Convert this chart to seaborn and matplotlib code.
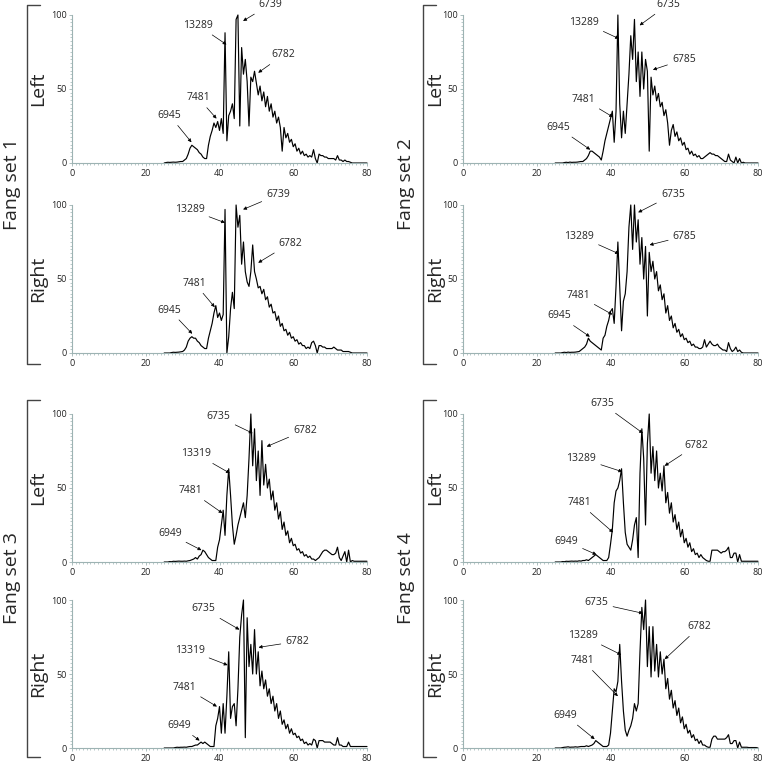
import numpy as np
import pandas as pd
import matplotlib
matplotlib.use('Agg')
import matplotlib.pyplot as plt
import seaborn as sns
from matplotlib.lines import Line2D
from matplotlib.ticker import MultipleLocator

# --- dados: intensidade relativa (%) em grade de 0.5 min, de 25 a 80 ---
TIME = np.arange(25, 80.5, 0.5)

S1_LEFT = [0, 0.3, 0.5, 0.4, 0.5, 0.6, 0.5, 0.6, 0.8, 1,
           1, 2, 3, 6, 10, 12, 11, 10, 9, 7,
           6, 4, 3, 3, 12, 18, 22, 27, 24, 28,
           22, 30, 20, 88, 15, 32, 35, 40, 30, 97,
           100, 25, 78, 60, 70, 55, 25, 58, 55, 62,
           54, 46, 52, 42, 48, 38, 45, 35, 40, 31,
           35, 27, 31, 24, 8, 24, 17, 20, 14, 16,
           11, 13, 8, 10, 6, 8, 5, 6, 4, 5,
           4, 9, 3, 0, 6, 5, 5, 4, 4, 3,
           3, 3, 3, 2, 5, 2, 2, 1, 2, 1,
           1, 0.5, 0, 0, 0, 0, 0, 0, 0, 0,
           0]
S1_RIGHT = [0, 0, 0, 0, 0.3, 0.5, 0.4, 0.5, 0.6, 0.8,
            1, 2, 4, 8, 10, 11, 10, 10, 8, 7,
            5, 4, 3, 3, 10, 15, 20, 27, 32, 24,
            27, 22, 26, 97, 0, 11, 30, 41, 30, 100,
            85, 93, 60, 75, 55, 48, 45, 55, 73, 55,
            50, 44, 45, 40, 43, 36, 38, 31, 33, 27,
            28, 22, 25, 18, 20, 15, 16, 12, 14, 10,
            11, 8, 9, 6, 7, 5, 5, 3, 4, 3,
            7, 8, 5, 0, 5, 5, 4, 4, 3, 3,
            3, 3, 4, 3, 2, 2, 2, 1, 1, 1,
            1, 0.5, 0, 0, 0, 0, 0, 0, 0, 0,
            0]
S2_LEFT = [0, 0, 0, 0, 0, 0.3, 0.5, 0.3, 0.6, 0.4,
           0.5, 0.5, 0.6, 0.8, 1, 1, 2, 3, 5, 8,
           8, 7, 6, 5, 4, 2, 8, 15, 20, 25,
           30, 35, 14, 35, 100, 40, 17, 35, 20, 40,
           60, 86, 70, 97, 55, 75, 45, 75, 50, 70,
           62, 8, 58, 46, 52, 42, 47, 38, 41, 32,
           36, 27, 12, 22, 26, 18, 21, 15, 17, 12,
           14, 9, 10, 6, 8, 5, 6, 4, 5, 3,
           3, 4, 5, 6, 7, 6, 6, 5, 5, 4,
           3, 2, 1, 1, 6, 2, 1, 0, 4, 0,
           3, 0, 0.5, 0, 0, 0, 0, 0, 0, 0,
           0]
S2_RIGHT = [0, 0, 0, 0, 0.3, 0.5, 0.3, 0.6, 0.4, 0.5,
            0.5, 0.6, 0.8, 1, 2, 3, 4, 6, 10, 8,
            7, 6, 5, 4, 3, 2, 10, 12, 18, 22,
            28, 30, 20, 45, 75, 45, 15, 35, 40, 55,
            85, 100, 70, 100, 75, 90, 60, 78, 50, 72,
            25, 68, 55, 62, 50, 55, 42, 46, 36, 40,
            27, 32, 22, 25, 17, 20, 14, 16, 11, 13,
            9, 10, 7, 8, 5, 6, 4, 4, 3, 3,
            4, 9, 4, 6, 8, 6, 5, 5, 6, 4,
            3, 2, 2, 1, 7, 3, 1, 2, 4, 1,
            2, 0.5, 0, 0, 0, 0, 0, 0, 0, 0,
            0]
S3_LEFT = [0, 0, 0, 0.3, 0.2, 0.5, 0.4, 0.5, 0.6, 0.5,
           0.5, 0.6, 0.5, 0.8, 1, 1.5, 2, 3, 2, 4,
           5, 8, 7, 5, 3, 2, 1, 1, 1, 10,
           15, 25, 35, 18, 45, 63, 45, 25, 12, 18,
           25, 30, 35, 40, 30, 45, 70, 100, 65, 90,
           55, 75, 45, 82, 52, 66, 50, 56, 42, 48,
           35, 40, 29, 34, 22, 27, 18, 21, 13, 16,
           11, 12, 8, 9, 6, 7, 4, 5, 3, 4,
           2, 2, 1, 2, 3, 5, 7, 8, 8, 7,
           6, 5, 5, 6, 10, 3, 1, 4, 7, 0,
           8, 0, 1, 0.5, 0.5, 0.5, 0.5, 0.5, 0.5, 0.5,
           0.5]
S3_RIGHT = [0, 0, 0, 0, 0, 0, 0.3, 0.5, 0.4, 0.5,
            0.5, 0.6, 0.5, 0.8, 1, 1, 1.5, 2, 2, 3,
            4, 3, 4, 3, 2, 1, 1, 1, 15, 20,
            28, 10, 30, 10, 35, 65, 20, 28, 30, 15,
            40, 75, 90, 100, 7, 88, 55, 70, 50, 80,
            50, 65, 42, 52, 40, 46, 35, 40, 30, 35,
            25, 30, 20, 25, 16, 19, 13, 16, 10, 13,
            9, 10, 7, 8, 5, 6, 3, 4, 2, 3,
            2, 6, 5, 0, 5, 5, 5, 4, 4, 4,
            4, 3, 2, 2, 7, 2, 2, 1, 1, 1,
            4, 1, 1, 1, 1, 1, 1, 1, 1, 1,
            1]
S4_LEFT = [0, 0, 0, 0, 0.3, 0.2, 0.5, 0.4, 0.5, 0.6,
           0.5, 0.6, 0.5, 0.8, 0.6, 1, 1, 1.5, 1, 2,
           3, 4, 5, 4, 3, 2, 1, 1, 1, 3,
           12, 22, 40, 48, 50, 55, 63, 40, 20, 12,
           10, 8, 15, 25, 30, 3, 60, 90, 70, 25,
           80, 100, 60, 78, 55, 75, 50, 60, 48, 65,
           40, 47, 33, 40, 27, 32, 22, 27, 17, 22,
           13, 16, 10, 13, 7, 9, 5, 6, 3, 5,
           3, 2, 1, 0.5, 0.5, 8, 8, 8, 8, 7,
           6, 7, 7, 8, 10, 3, 3, 6, 6, 0,
           5, 0.5, 0.5, 0.5, 0.5, 0.5, 0.5, 0.5, 0.5, 0.5,
           0.5]
S4_RIGHT = [0, 0, 0, 0, 0.3, 0.5, 0.6, 0.8, 0.5, 0.6,
            0.6, 0.8, 0.6, 0.8, 1, 1, 1, 1.5, 1, 1.5,
            2, 3, 5, 4, 3, 2, 1, 1, 1, 2,
            10, 25, 40, 38, 45, 70, 45, 25, 12, 8,
            12, 15, 20, 30, 25, 30, 65, 95, 80, 100,
            55, 82, 48, 82, 52, 70, 48, 65, 50, 60,
            40, 47, 33, 39, 27, 32, 22, 27, 17, 21,
            13, 16, 10, 12, 7, 9, 5, 6, 3, 5,
            2, 2, 1, 0.5, 0.5, 6, 8, 8, 6, 6,
            6, 6, 6, 7, 9, 3, 3, 5, 5, 0,
            4, 0.5, 0.5, 0.5, 0.5, 0.3, 0.3, 0.3, 0.3, 0.3,
            0]

# rótulos dos picos: (texto, x do texto, y do texto, x da seta, y da seta)
PEAKS_S1_LEFT = [('6945', 26.5, 32, 32.4, 14), ('7481', 34.2, 44, 39.2, 30),
                 ('13289', 34.2, 93, 41.9, 80), ('6739', 53.7, 107, 46.4, 96),
                 ('6782', 57.3, 73, 50.5, 61)]
PEAKS_S1_RIGHT = [('6945', 26.5, 29, 32.6, 13), ('7481', 33.3, 47, 38.7, 31),
                  ('13289', 31.9, 97, 41.5, 88), ('6739', 55.9, 107, 46.4, 97),
                  ('6782', 59.1, 74, 50.5, 61)]
PEAKS_S2_LEFT = [('6945', 25.8, 24, 34.5, 9), ('7481', 32.7, 43, 40.7, 31),
                 ('13289', 32.8, 95, 42.3, 84), ('6735', 55.6, 107, 47.9, 93),
                 ('6785', 59.9, 70, 51.5, 63)]
PEAKS_S2_RIGHT = [('6945', 26.2, 25, 34.4, 11), ('7481', 31.2, 39, 40.5, 26),
                  ('13289', 31.5, 79, 42.3, 67), ('6735', 56.9, 107, 47.5, 95),
                  ('6785', 60.1, 79, 50.6, 73)]
PEAKS_S3_LEFT = [('6949', 26.5, 19, 35.1, 8), ('7481', 32.2, 48, 40.8, 33),
                 ('13319', 33.7, 73, 42.8, 60), ('6735', 39.8, 98, 49.0, 87),
                 ('6782', 63.2, 89, 52.8, 78)]
PEAKS_S3_RIGHT = [('6949', 29.2, 15, 34.6, 5), ('7481', 30.6, 41, 39.3, 28),
                  ('13319', 31.9, 66, 42.2, 56), ('6735', 35.7, 94, 45.4, 80),
                  ('6782', 61.1, 72, 50.6, 68)]
PEAKS_S4_LEFT = [('6949', 28.0, 14, 36.2, 5), ('7481', 31.5, 40, 40.7, 20),
                 ('13289', 32.1, 70, 43.2, 61), ('6735', 37.8, 107, 48.8, 87),
                 ('6782', 63.3, 79, 54.7, 65)]
PEAKS_S4_RIGHT = [('6949', 27.8, 22, 35.7, 6), ('7481', 32.5, 59, 42.0, 35),
                  ('13289', 32.4, 76, 42.9, 63), ('6735', 36.2, 98, 48.8, 91),
                  ('6782', 64.2, 82, 54.7, 60)]

PAINEIS = [
    (S1_LEFT, PEAKS_S1_LEFT), (S1_RIGHT, PEAKS_S1_RIGHT),
    (S2_LEFT, PEAKS_S2_LEFT), (S2_RIGHT, PEAKS_S2_RIGHT),
    (S3_LEFT, PEAKS_S3_LEFT), (S3_RIGHT, PEAKS_S3_RIGHT),
    (S4_LEFT, PEAKS_S4_LEFT), (S4_RIGHT, PEAKS_S4_RIGHT),
]

# --- figura ---
sns.set_theme(style='ticks')
plt.rcParams['font.family'] = ['Open Sans', 'DejaVu Sans']

W, H = 765, 762
fig = plt.figure(figsize=(W / 100, H / 100), dpi=100)

COR_EIXO = '#9db3b3'
col_x = [72, 463]             # pixel do x=0 em cada coluna
row_y = [163, 353, 562, 748]  # pixel do y=0 em cada linha
larg, alt = 295, 148

# ordem: set1 L, set1 R, set2 L, set2 R, set3 L, set3 R, set4 L, set4 R
posicoes = [(0, 0), (0, 1), (1, 0), (1, 1), (0, 2), (0, 3), (1, 2), (1, 3)]

for (valores, picos), (c, r) in zip(PAINEIS, posicoes):
    ax = fig.add_axes([col_x[c] / W, 1 - row_y[r] / H, larg / W, alt / H])
    df = pd.DataFrame({'t': TIME, 'i': valores})
    sns.lineplot(data=df, x='t', y='i', ax=ax, color='black', lw=0.85,
                 estimator=None, clip_on=False)
    ax.set_xlim(0, 80)
    ax.set_ylim(0, 100)
    ax.set_xlabel('')
    ax.set_ylabel('')
    ax.set_xticks([0, 20, 40, 60, 80])
    ax.set_yticks([0, 50, 100])
    ax.xaxis.set_minor_locator(MultipleLocator(1))
    ax.yaxis.set_minor_locator(MultipleLocator(2.5))
    ax.tick_params(which='major', length=2.5, width=0.6, color=COR_EIXO,
                   labelsize=6.5, pad=1.5, labelcolor='#222222')
    ax.tick_params(which='minor', length=1.5, width=0.5, color=COR_EIXO)
    for lado in ['top', 'right']:
        ax.spines[lado].set_visible(False)
    for lado in ['left', 'bottom']:
        ax.spines[lado].set_color(COR_EIXO)
        ax.spines[lado].set_linewidth(0.8)
    ax.patch.set_alpha(0)

    for txt, tx, ty, px, py in picos:
        ax.annotate(txt, xy=(px, py), xytext=(tx, ty), fontsize=7.5,
                    ha='center', va='center', annotation_clip=False,
                    arrowprops=dict(arrowstyle='-|>', color='black', lw=0.5,
                                    mutation_scale=5, shrinkA=1, shrinkB=0))

    # rótulo Left / Right
    lado_x = (38 if c == 0 else 435) / W
    centro_y = 1 - (row_y[r] - alt / 2) / H
    fig.text(lado_x, centro_y, 'Left' if r in (0, 2) else 'Right', rotation=90,
             ha='center', va='center', fontsize=14)

# colchetes e nomes dos conjuntos
grupos = [('Fang set 1', 0, 5, 364), ('Fang set 2', 1, 5, 364),
          ('Fang set 3', 0, 400, 757), ('Fang set 4', 1, 400, 757)]
for nome, c, y0, y1 in grupos:
    bx = 27 if c == 0 else 423
    xs = [(bx + 13) / W, bx / W, bx / W, (bx + 13) / W]
    ys = [1 - y0 / H, 1 - y0 / H, 1 - y1 / H, 1 - y1 / H]
    fig.add_artist(Line2D(xs, ys, color='#444444', lw=1.0))
    tx = 12 if c == 0 else 406
    fig.text(tx / W, 1 - (y0 + y1) / 2 / H, nome, rotation=90,
             ha='center', va='center', fontsize=14)

plt.savefig('out.png', dpi=100)
